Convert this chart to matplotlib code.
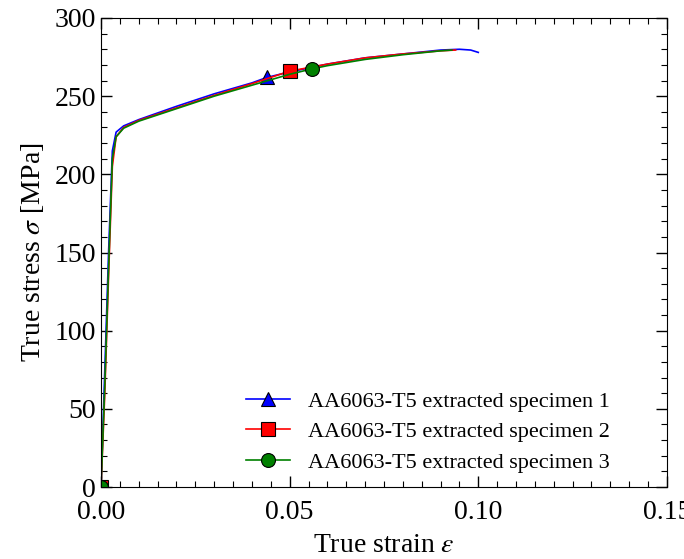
import matplotlib
matplotlib.use("Agg")
import matplotlib.pyplot as plt
from matplotlib.ticker import MultipleLocator

plt.rcParams['font.family'] = ['Liberation Serif', 'DejaVu Serif']
plt.rcParams['mathtext.fontset'] = 'stix'

# specimen 1 (blue)
strain_1 = [0, 0.001, 0.002, 0.003, 0.004, 0.006, 0.01, 0.02, 0.03, 0.04, 0.044,
            0.05, 0.06, 0.07, 0.08, 0.09, 0.095, 0.098, 0.10]
stress_1 = [0, 75, 150, 215, 227, 231, 235, 243.5, 251.5, 258.5, 262,
            265.5, 270.5, 274.5, 277, 279.5, 280, 279.5, 278]
# specimen 2 (red)
strain_2 = [0, 0.001, 0.002, 0.003, 0.004, 0.006, 0.01, 0.02, 0.03, 0.04,
            0.05, 0.06, 0.07, 0.08, 0.09, 0.094]
stress_2 = [0, 60, 135, 205, 224, 230, 234.5, 242.5, 250.5, 258,
            266, 270.5, 274.5, 277, 279, 279.5]
# specimen 3 (green)
strain_3 = [0, 0.001, 0.002, 0.003, 0.004, 0.006, 0.01, 0.02, 0.03, 0.04, 0.05,
            0.056, 0.06, 0.07, 0.08, 0.09, 0.093]
stress_3 = [0, 65, 140, 210, 224, 229.5, 234, 242, 250, 257, 264,
            267.5, 269.5, 273.5, 276.5, 279, 279.5]

labels = ['AA6063-T5 extracted specimen 1',
          'AA6063-T5 extracted specimen 2',
          'AA6063-T5 extracted specimen 3']

fig = plt.figure(figsize=(6.84, 5.59), dpi=100)
ax = fig.add_axes([0.1477, 0.1288, 0.8273, 0.839])

ax.plot(strain_1, stress_1, color='b', lw=1.2, marker='^', ms=10, mec='k', mew=0.8,
        markevery=[0, 10], label=labels[0])
ax.plot(strain_2, stress_2, color='r', lw=1.2, marker='s', ms=10, mec='k', mew=0.8,
        markevery=[0, 10], label=labels[1])
ax.plot(strain_3, stress_3, color='g', lw=1.2, marker='o', ms=10, mec='k', mew=0.8,
        markevery=[0, 11], label=labels[2])

ax.set_xlim(0, 0.15)
ax.set_ylim(0, 300)
ax.xaxis.set_major_locator(MultipleLocator(0.05))
ax.xaxis.set_minor_locator(MultipleLocator(0.005))
ax.yaxis.set_major_locator(MultipleLocator(50))
ax.yaxis.set_minor_locator(MultipleLocator(10))
ax.xaxis.set_major_formatter(plt.FormatStrFormatter('%.2f'))
ax.tick_params(which='both', direction='in', top=True, right=True, labelsize=20)
ax.tick_params(which='major', length=8, width=1)
ax.tick_params(which='minor', length=4, width=0.8)
ax.tick_params(axis='x', pad=9)

ax.set_xlabel(r'True strain $\varepsilon$', fontsize=20, labelpad=6)
ax.set_ylabel(r'True stress $\sigma$ [MPa]', fontsize=20, labelpad=6)

ax.legend(loc='lower right', bbox_to_anchor=(0.935, -0.012), frameon=False,
          fontsize=16, handlelength=2.0, labelspacing=0.45)

fig.savefig('out.png', dpi=100)
